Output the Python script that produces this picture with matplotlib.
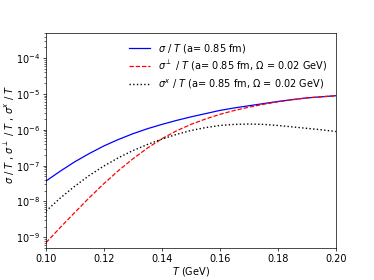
import numpy as np
import matplotlib
matplotlib.use("Agg")
import matplotlib.pyplot as plt

# temperature grid (GeV)
temp = [0.100, 0.105, 0.110, 0.115, 0.120, 0.125, 0.130, 0.135, 0.140, 0.145,
        0.150, 0.155, 0.160, 0.165, 0.170, 0.175, 0.180, 0.185, 0.190, 0.195, 0.200]

# log10 of sigma/T
log_sigma = [-7.43, -7.15, -6.89, -6.66, -6.45, -6.27, -6.11, -5.97, -5.85, -5.74,
             -5.64, -5.55, -5.46, -5.39, -5.33, -5.27, -5.21, -5.16, -5.11, -5.08, -5.05]
log_sigma_perp = [-9.15, -8.72, -8.30, -7.89, -7.50, -7.14, -6.81, -6.51, -6.25, -6.03,
                  -5.85, -5.70, -5.57, -5.46, -5.37, -5.29, -5.22, -5.16, -5.11, -5.08, -5.05]
log_sigma_x = [-8.27, -7.90, -7.57, -7.27, -7.01, -6.78, -6.58, -6.41, -6.26, -6.13,
               -6.02, -5.94, -5.88, -5.85, -5.84, -5.85, -5.88, -5.92, -5.96, -6.00, -6.05]

fs = 7.0
plt.rcParams['font.size'] = fs
plt.rcParams['mathtext.fontset'] = 'dejavusans'

fig = plt.figure(figsize=(3.74, 2.80), dpi=100)
ax = fig.add_axes([0.123, 0.114, 0.775, 0.768])

ax.plot(temp, 10**np.array(log_sigma), color='blue', linestyle='-', linewidth=0.9,
        label=r'$\sigma$ / $T$ (a= 0.85 fm)')
ax.plot(temp, 10**np.array(log_sigma_perp), color='red', linestyle='--', linewidth=0.9,
        dashes=(3.5, 1.5), label=r'$\sigma^{\perp}$ / $T$ (a= 0.85 fm, $\Omega$ = 0.02 GeV)')
ax.plot(temp, 10**np.array(log_sigma_x), color='black', linestyle=':', linewidth=1.0,
        label=r'$\sigma^{x}$ / $T$ (a= 0.85 fm, $\Omega$ = 0.02 GeV)')

ax.set_yscale('log')
ax.set_xlim(0.10, 0.20)
ax.set_ylim(5.0e-10, 5.0e-4)
ax.set_xticks([0.10, 0.12, 0.14, 0.16, 0.18, 0.20])
ax.set_xlabel(r'$T$ (GeV)', fontsize=fs, labelpad=1)
ax.set_ylabel(r'$\sigma$ / $T$ , $\sigma^{\perp}$ / $T$ , $\sigma^{x}$ / $T$', fontsize=fs)
ax.yaxis.set_label_coords(-0.10, 0.53)
ax.tick_params(which='major', length=2.2, width=0.5, labelsize=fs, pad=2)
ax.tick_params(which='minor', length=1.3, width=0.4)
for s in ax.spines.values():
    s.set_linewidth(0.5)

ax.legend(loc='upper right', frameon=False, fontsize=fs, handlelength=2.2,
          borderaxespad=0.5, labelspacing=0.45)

fig.savefig('out.png', dpi=100)
